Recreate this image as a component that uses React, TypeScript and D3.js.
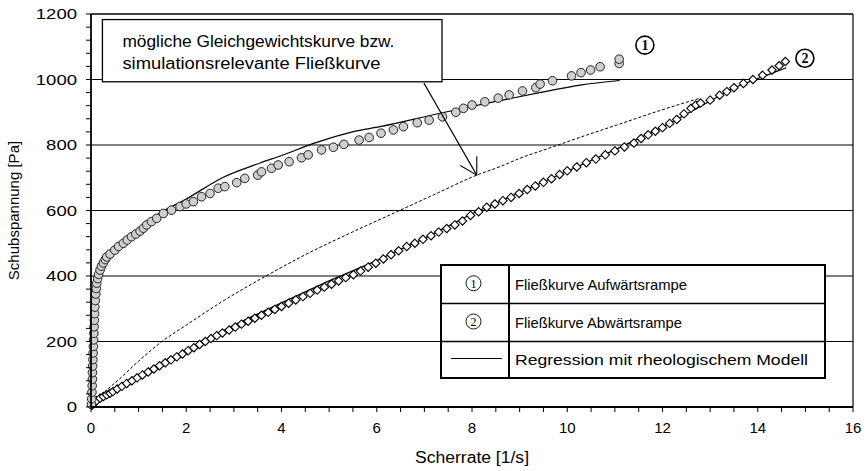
import React from "react";
import * as d3 from "d3";

// Upward ramp measurements (shear rate [1/s], shear stress [Pa])
const upX = [0.01,0.015,0.02,0.025,0.03,0.03,0.035,0.04,0.045,0.05,0.055,0.06,0.065,0.07,0.075,0.08,0.09,0.1,0.11,0.12,0.14,0.16,0.19,0.22,0.26,0.3,0.33,0.4,0.5,0.58,0.68,0.76,0.85,0.94,1.03,1.1,1.17,1.27,1.38,1.52,1.69,1.87,2.0,2.15,2.32,2.5,2.67,2.81,3.06,3.23,3.5,3.58,3.79,3.93,4.16,4.42,4.56,4.84,5.09,5.31,5.63,5.84,6.09,6.35,6.56,6.85,7.1,7.38,7.66,7.82,8.0,8.27,8.55,8.78,9.06,9.34,9.43,9.69,10.09,10.29,10.49,10.69,11.09,11.09];
const upY = [8,25,45,65,85,105,125,145,165,185,205,225,245,265,285,305,325,345,362,378,392,405,418,430,440,450,458,467,479,490,500,510,520,528,537,546,556,566,576,591,601,612,620,627,642,652,668,673,685,698,708,718,729,739,749,761,770,785,793,802,815,823,836,846,856,868,876,886,900,912,922,932,943,953,965,975,986,996,1011,1021,1029,1039,1049,1062];

// Downward ramp measurements
const downX = [0.02,0.05,0.12,0.19,0.26,0.33,0.4,0.46,0.55,0.65,0.75,0.86,0.97,1.08,1.2,1.32,1.44,1.56,1.68,1.8,1.92,2.04,2.16,2.28,2.4,2.52,2.64,2.76,2.9,3.03,3.16,3.3,3.44,3.58,3.72,3.86,4.0,4.15,4.3,4.45,4.6,4.75,4.9,5.05,5.2,5.35,5.51,5.66,5.82,5.98,6.14,6.3,6.46,6.63,6.8,6.97,7.14,7.3,7.47,7.64,7.8,7.97,8.14,8.31,8.48,8.65,8.82,8.99,9.16,9.33,9.5,9.67,9.84,10.0,10.2,10.4,10.6,10.8,11.0,11.2,11.4,11.55,11.7,11.85,12.0,12.15,12.3,12.45,12.6,12.7,12.8,13.0,13.2,13.35,13.5,13.7,13.9,14.1,14.3,14.45,14.58];
const downY = [5,11,19,27,32,37,42,47,55,63,72,80,89,98,107,116,126,135,144,153,162,172,181,191,200,209,218,226,235,244,253,262,271,280,289,298,307,317,327,337,347,357,366,375,385,395,404,415,427,439,452,465,477,490,500,512,523,534,545,556,568,585,596,610,620,630,640,652,664,675,686,697,710,721,733,746,757,770,782,794,806,820,831,842,853,866,878,895,912,922,928,937,952,963,975,988,1000,1013,1029,1042,1055];

// Rheological model regressions
const fitUpX = [0,0.01,0.02,0.05,0.1,0.2,0.4,0.7,1.0,1.4,2.0,2.8,3.55,4.0,4.74,5.51,6.07,7.33,8.5,9.5,10.27,11.1];
const fitUpY = [0,80,150,270,345,405,462,510,545,588,635,703,745,768,808,841,856,897,933,962,983,997];
const fitDownX = [0,0.5,1,2,3,4,5,6,7,8,9,10,11,12,12.7,13.5,14.6];
const fitDownY = [0,50,92,172,250,318,385,447,515,590,655,720,785,855,910,975,1036];

// Possible equilibrium / simulation-relevant flow curve
const eqX = [0,0.22,0.57,1.0,1.48,2.0,2.81,3.65,4.5,5.5,6.42,7.3,8.1,8.59,9.0,9.71,10.4,11.04,12.09,12.79];
const eqY = [0,37,82,140,199,250,327,398,465,535,596,655,708,734,759,795,830,861,912,943];

const xTicks = [0,2,4,6,8,10,12,14,16];
const yTicks = [0,200,400,600,800,1000,1200];
const xTitle = "Scherrate [1/s]";
const yTitle = "Schubspannung [Pa]";
const noteLines = ["mögliche Gleichgewichtskurve bzw.", "simulationsrelevante Fließkurve"];
const legendLabels = ["Fließkurve Aufwärtsrampe", "Fließkurve Abwärtsrampe", "Regression mit rheologischem Modell"];

const W = 866, H = 471;
const M = { left: 91, right: 853, top: 14, bottom: 407 };
const FONT = "'Liberation Sans', Arial, sans-serif";
const SERIF = "'Liberation Serif', 'DejaVu Serif', serif";

export default function App() {
  const x = d3.scaleLinear().domain([0, 16]).range([M.left, M.right]);
  const y = d3.scaleLinear().domain([0, 1200]).range([M.bottom, M.top]);
  const line = d3.line<[number, number]>().x(d => x(d[0])).y(d => y(d[1]));
  const curve = d3.line<[number, number]>().x(d => x(d[0])).y(d => y(d[1])).curve(d3.curveMonotoneX);

  const up = upX.map((v, i) => [v, upY[i]] as [number, number]);
  const down = downX.map((v, i) => [v, downY[i]] as [number, number]);
  const fitUp = fitUpX.map((v, i) => [v, fitUpY[i]] as [number, number]);
  const fitDown = fitDownX.map((v, i) => [v, fitDownY[i]] as [number, number]);
  const eq = eqX.map((v, i) => [v, eqY[i]] as [number, number]);

  const minorY = d3.range(0, 1201, 40);
  const minorX = d3.range(0, 16.01, 0.5);

  // note box and arrow, placed in data units
  const box = { x0: x(0.24), x1: x(7.37), y0: y(1183), y1: y(993) };
  const a0 = [x(6.99), y(989)], a1 = [x(8.1), y(708)];
  const ang = Math.atan2(a1[1] - a0[1], a1[0] - a0[0]);
  const hl = 19, hs = Math.PI / 6;
  const h1 = [a1[0] - hl * Math.cos(ang - hs), a1[1] - hl * Math.sin(ang - hs)];
  const h2 = [a1[0] - hl * Math.cos(ang + hs), a1[1] - hl * Math.sin(ang + hs)];

  // legend
  const L = { x0: 441, x1: 825, xd: 509, rows: [265, 303.5, 341.5, 378] };
  const legendWidths = [172, 167, 293];
  const noteWidths = [272, 258];

  return (
    <svg width={W} height={H} style={{ position: "absolute", left: 0, top: 0, background: "#fff" }} fontFamily={FONT}>
      {/* grid */}
      {yTicks.slice(1, -1).map(t => (
        <line key={"g" + t} x1={M.left} x2={M.right} y1={y(t)} y2={y(t)} stroke="#000" strokeWidth={1.2} />
      ))}
      {/* frame */}
      <line x1={M.left} x2={M.right} y1={M.top} y2={M.top} stroke="#000" strokeWidth={1.5} />
      <line x1={M.right} x2={M.right} y1={M.top} y2={M.bottom} stroke="#000" strokeWidth={1.2} />

      {/* equilibrium curve */}
      <path d={curve(eq) || ""} fill="none" stroke="#000" strokeWidth={1} strokeDasharray="3,2" />

      {/* regressions */}
      <path d={curve(fitUp) || ""} fill="none" stroke="#000" strokeWidth={1.2} />
      <path d={line(fitDown) || ""} fill="none" stroke="#000" strokeWidth={1.2} />

      {/* downward ramp diamonds */}
      {down.map((d, i) => {
        const cx = x(d[0]), cy = y(d[1]), s = 4.2;
        return <path key={"d" + i} d={`M${cx},${cy - s}L${cx + s},${cy}L${cx},${cy + s}L${cx - s},${cy}Z`} fill="#fff" stroke="#000" strokeWidth={1.1} />;
      })}
      {/* upward ramp circles */}
      {up.map((d, i) => (
        <circle key={"u" + i} cx={x(d[0])} cy={y(d[1])} r={4.3} fill="#cfcfcf" stroke="#222" strokeWidth={1} />
      ))}

      {/* axes */}
      <line x1={M.left} x2={M.left} y1={M.top} y2={M.bottom} stroke="#000" strokeWidth={1.8} />
      <line x1={M.left} x2={M.right} y1={M.bottom} y2={M.bottom} stroke="#000" strokeWidth={1.8} />
      {minorY.map(t => (
        <line key={"my" + t} x1={M.left - 5} x2={M.left} y1={y(t)} y2={y(t)} stroke="#000" strokeWidth={1} />
      ))}
      {minorX.map(t => (
        <line key={"mx" + t} x1={x(t)} x2={x(t)} y1={M.bottom} y2={M.bottom + 5} stroke="#000" strokeWidth={1} />
      ))}
      {yTicks.map(t => (
        <text key={"yl" + t} x={M.left - 14} y={y(t)} dy="0.35em" textAnchor="end" fontSize={15}
          textLength={String(t).length * 10.3} lengthAdjust="spacingAndGlyphs">{t}</text>
      ))}
      {xTicks.map(t => (
        <text key={"xl" + t} x={x(t)} y={M.bottom + 26} textAnchor="middle" fontSize={15}>{t}</text>
      ))}
      <text x={472} y={463} textAnchor="middle" fontSize={16} textLength={114} lengthAdjust="spacingAndGlyphs">{xTitle}</text>
      <text transform={`translate(19,${(M.top + M.bottom) / 2}) rotate(-90)`} textAnchor="middle" fontSize={15}>{yTitle}</text>

      {/* note */}
      <rect x={box.x0} y={box.y0} width={box.x1 - box.x0} height={box.y1 - box.y0} fill="#fff" stroke="#000" strokeWidth={1.3} />
      {noteLines.map((s, i) => (
        <text key={"n" + i} x={box.x0 + 20} y={box.y0 + 27.5 + i * 21.5} fontSize={16}
          textLength={noteWidths[i]} lengthAdjust="spacingAndGlyphs">{s}</text>
      ))}
      <line x1={a0[0]} y1={a0[1]} x2={a1[0]} y2={a1[1]} stroke="#000" strokeWidth={1.1} />
      <polyline points={`${h1[0]},${h1[1]} ${a1[0]},${a1[1]} ${h2[0]},${h2[1]}`} fill="none" stroke="#000" strokeWidth={1.1} />

      {/* series markers */}
      {[{ n: "1", px: x(11.63), py: y(1105) }, { n: "2", px: x(14.99), py: y(1065) }].map(m => (
        <g key={"m" + m.n}>
          <circle cx={m.px} cy={m.py} r={9} fill="#fff" stroke="#000" strokeWidth={1.6} />
          <text x={m.px} y={m.py} dy="0.36em" textAnchor="middle" fontFamily={SERIF} fontWeight="bold" fontSize={14}>{m.n}</text>
        </g>
      ))}

      {/* legend */}
      <rect x={L.x0} y={L.rows[0]} width={L.x1 - L.x0} height={L.rows[3] - L.rows[0]} fill="#fff" stroke="#000" strokeWidth={2} />
      <line x1={L.xd} x2={L.xd} y1={L.rows[0]} y2={L.rows[3]} stroke="#000" strokeWidth={2} />
      <line x1={L.x0} x2={L.x1} y1={L.rows[1]} y2={L.rows[1]} stroke="#000" strokeWidth={1.5} />
      <line x1={L.x0} x2={L.x1} y1={L.rows[2]} y2={L.rows[2]} stroke="#000" strokeWidth={1.5} />
      {["1", "2"].map((n, i) => {
        const cy = (L.rows[i] + L.rows[i + 1]) / 2 - 1;
        return (
          <g key={"lg" + n}>
            <circle cx={473.5} cy={cy} r={7.5} fill="none" stroke="#000" strokeWidth={0.9} />
            <text x={473.5} y={cy} dy="0.36em" textAnchor="middle" fontFamily={SERIF} fontSize={12}>{n}</text>
          </g>
        );
      })}
      <line x1={451} x2={502} y1={358.5} y2={358.5} stroke="#000" strokeWidth={1.2} />
      {legendLabels.map((s, i) => (
        <text key={"lt" + i} x={515} y={(L.rows[i] + L.rows[i + 1]) / 2} dy="0.36em" fontSize={15}
          textLength={legendWidths[i]} lengthAdjust="spacingAndGlyphs">{s}</text>
      ))}
    </svg>
  );
}
